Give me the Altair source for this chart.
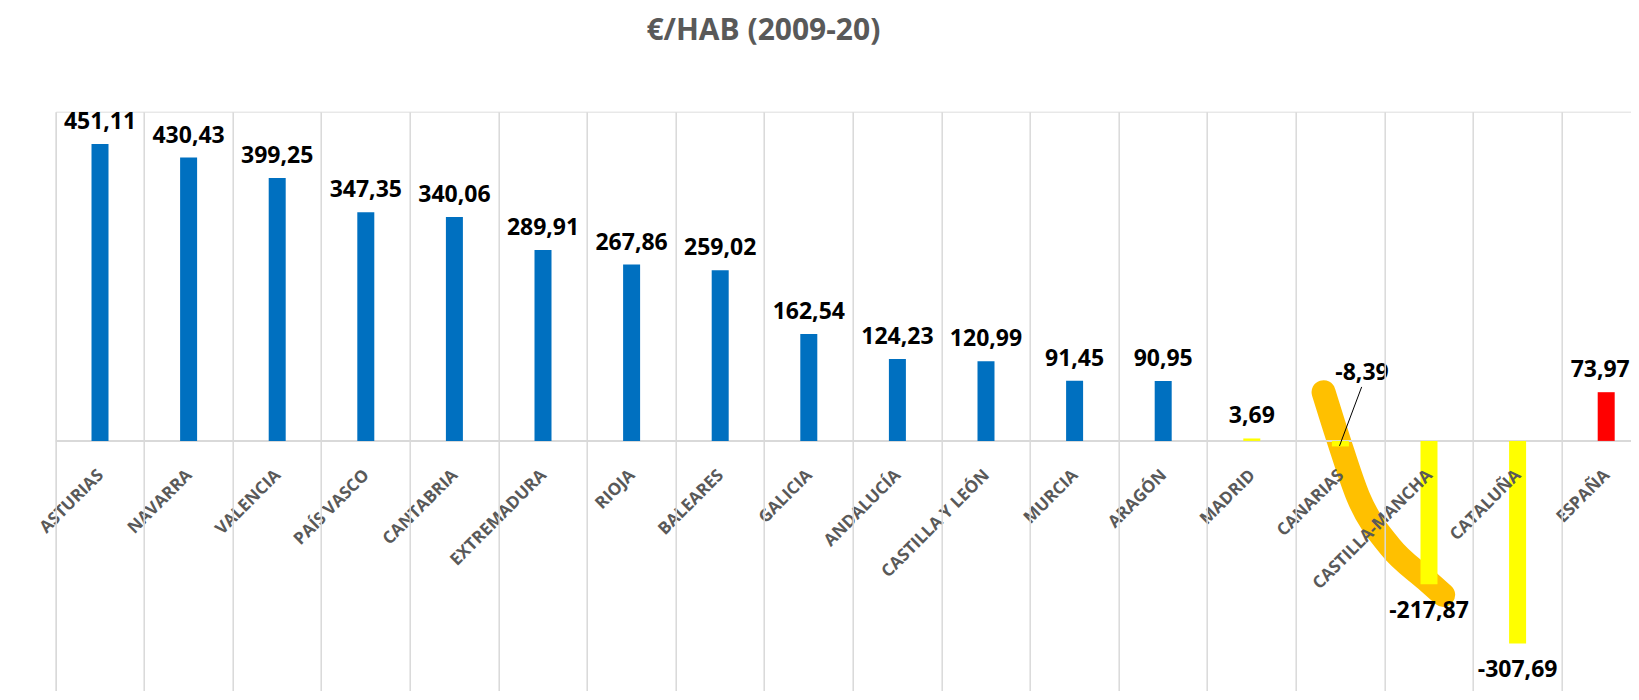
import altair as alt
import pandas as pd

# ---- data ----
regions = ["ASTURIAS", "NAVARRA", "VALENCIA", "PAÍS VASCO", "CANTABRIA",
           "EXTREMADURA", "RIOJA", "BALEARES", "GALICIA", "ANDALUCÍA",
           "CASTILLA Y LEÓN", "MURCIA", "ARAGÓN", "MADRID", "CANARIAS",
           "CASTILLA-MANCHA", "CATALUÑA", "ESPAÑA"]
values = [451.11, 430.43, 399.25, 347.35, 340.06, 289.91, 267.86, 259.02,
          162.54, 124.23, 120.99, 91.45, 90.95, 3.69, -8.39, -217.87,
          -307.69, 73.97]
groups = ["alto"] * 13 + ["bajo"] * 4 + ["total"]

# hand-drawn orange annotation (category-index units, value units)
curve_x = [14.31, 14.48, 14.70, 15.06, 15.47, 15.66]
curve_y = [74.0, 1.5, -84.6, -160.5, -211.1, -233.9]

# leader line + moved label for CANARIAS
leader_x = [14.49, 14.74]
leader_y = [-7.6, 82.0]
moved_label_x = [14.744]
moved_label_y = [92.6]
moved_label_text = ["-8,39"]

# ---- tables ----
df = pd.DataFrame({
    "region": regions,
    "valor": values,
    "grupo": groups,
    "etiqueta": [f"{v:.2f}".replace(".", ",") for v in values],
    "orden": list(range(len(regions))),
})
curve_df = pd.DataFrame({"cx": curve_x, "cy": curve_y, "k": list(range(len(curve_x)))})
leader_df = pd.DataFrame({"x1": [leader_x[0]], "x2": [leader_x[1]],
                          "y1": [leader_y[0]], "y2": [leader_y[1]]})
moved_df = pd.DataFrame({"lx": moved_label_x, "ly": moved_label_y, "t": moved_label_text})

FONT = "Open Sans"
VAL_SIZE = 23
RANGE_W = 1594.8          # 18 categories, the last one runs past the page edge
y_scale = alt.Scale(domain=[-380, 500], nice=False, zero=False)
xq_scale = alt.Scale(domain=[0, 18], range=[0, RANGE_W], nice=False, zero=False)
xb_scale = alt.Scale(range=[0, RANGE_W], paddingInner=0, paddingOuter=0)

# orange curve (drawn first, beneath everything)
curve = alt.Chart(curve_df).mark_line(
    color="#FFC000", strokeWidth=24, strokeCap="round", strokeJoin="round",
    interpolate="monotone"
).encode(
    x=alt.X("cx:Q", scale=xq_scale, axis=None),
    y=alt.Y("cy:Q", scale=y_scale, axis=None),
    order="k:Q",
)

base = alt.Chart(df)
x_enc = alt.X("region:N", sort=regions, scale=xb_scale,
              axis=alt.Axis(orient="bottom", grid=True, gridColor="#d9d9d9",
                            gridWidth=1.5, bandPosition=0, labels=False,
                            ticks=False, domain=False, title=None, zindex=1))
x_plain = alt.X("region:N", sort=regions)

zero_rule = base.mark_rule(color="#d9d9d9", strokeWidth=2).encode(
    y=alt.Y(datum=0, scale=y_scale, axis=None)
).transform_filter("datum.orden == 0")

bars = base.mark_bar(size=17).encode(
    x=x_enc,
    y=alt.Y("valor:Q", scale=y_scale, axis=None),
    color=alt.Color("grupo:N",
                    scale=alt.Scale(domain=["alto", "bajo", "total"],
                                    range=["#0070C0", "#FFFF00", "#FF0000"]),
                    legend=None),
)

label_style = dict(font=FONT, fontSize=VAL_SIZE, fontWeight="bold",
                   color="#000000", align="center", baseline="alphabetic")

pos_labels = base.transform_filter(
    "datum.valor >= 0 && datum.region != 'ESPAÑA'"
).mark_text(dy=-15, **label_style).encode(
    x=x_plain,
    y=alt.Y("valor:Q", scale=y_scale, axis=None),
    text="etiqueta:N",
)

# last label sits at the page edge: nudge it in a little
edge_label = base.transform_filter("datum.region == 'ESPAÑA'").mark_text(
    dy=-15, dx=-6, **label_style
).encode(
    x=x_plain,
    y=alt.Y("valor:Q", scale=y_scale, axis=None),
    text="etiqueta:N",
)

neg_labels = base.transform_filter(
    "datum.valor < 0 && datum.region != 'CANARIAS'"
).mark_text(dy=34, **label_style).encode(
    x=x_plain,
    y=alt.Y("valor:Q", scale=y_scale, axis=None),
    text="etiqueta:N",
)

cat_labels = base.mark_text(
    font=FONT, fontSize=17, fontWeight="bold", color="#595959",
    angle=315, align="right", baseline="middle", dx=-22, dy=23
).encode(
    x=x_plain,
    y=alt.Y(datum=0, scale=y_scale, axis=None),
    text="region:N",
)

inner = alt.layer(zero_rule, bars, pos_labels, edge_label, neg_labels, cat_labels)

leader = alt.Chart(leader_df).mark_rule(color="#000000", strokeWidth=1).encode(
    x=alt.X("x1:Q", scale=xq_scale, axis=None),
    x2="x2:Q",
    y=alt.Y("y1:Q", scale=y_scale, axis=None),
    y2="y2:Q",
)

moved = alt.Chart(moved_df).mark_text(**label_style).encode(
    x=alt.X("lx:Q", scale=xq_scale, axis=None),
    y=alt.Y("ly:Q", scale=y_scale, axis=None),
    text="t:N",
)

chart = alt.layer(curve, inner, leader, moved).resolve_scale(
    x="independent"
).properties(
    width=1575.3,
    height=579.4,
    autosize=alt.AutoSizeParams(type="none"),
    padding={"left": 47.7, "top": 103.7, "right": 0, "bottom": 0},
    title=alt.TitleParams(
        "€/HAB (2009-20)", font=FONT, fontSize=30, fontWeight="bold",
        color="#595959", anchor="middle", frame="group", baseline="alphabetic",
        offset=41, dx=-80,
    ),
).configure_view(stroke="transparent", strokeWidth=0).configure_axis(
    domain=False
).configure(background="white")

chart.save("out.html", embed_options={"renderer": "svg", "actions": False})
